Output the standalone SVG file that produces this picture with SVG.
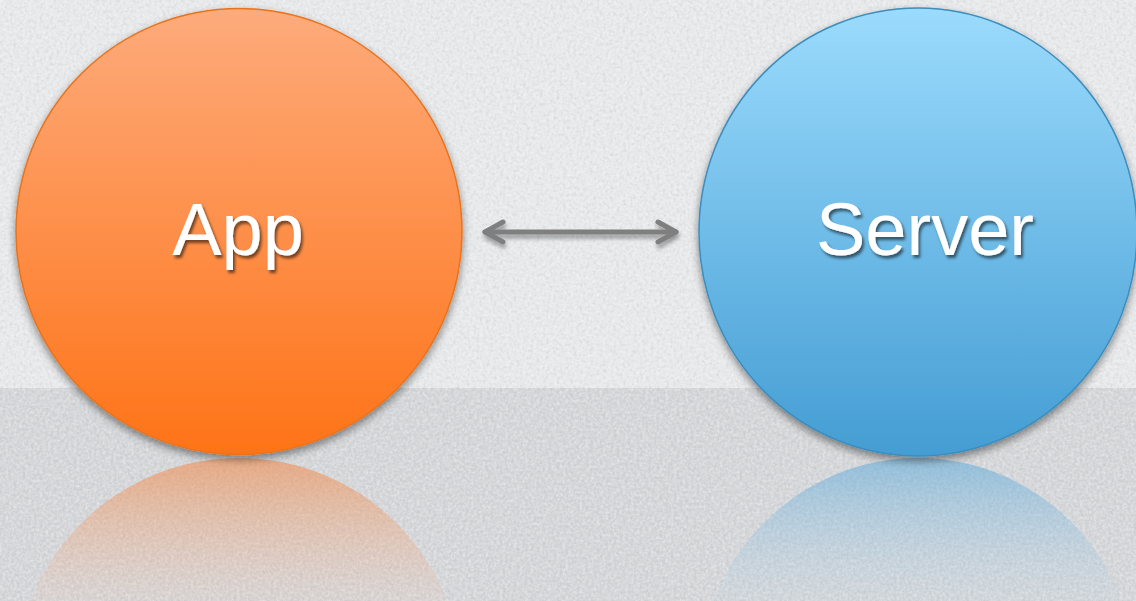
<svg xmlns="http://www.w3.org/2000/svg" width="1136" height="601" viewBox="0 0 1136 601">
  <defs>
    <filter id="noise" x="0" y="0" width="100%" height="100%">
      <feTurbulence type="fractalNoise" baseFrequency="0.35" numOctaves="3" seed="4" result="n"/>
      <feColorMatrix in="n" type="matrix" values="0 0 0 0 1  0 0 0 0 1  0 0 0 0 1  0 0 0 -1.6 1.1" result="w"/>
      <feComposite in="w" in2="SourceGraphic" operator="in"/>
    </filter>
    <filter id="noiseDark" x="0" y="0" width="100%" height="100%">
      <feTurbulence type="fractalNoise" baseFrequency="0.3" numOctaves="2" seed="9" result="n"/>
      <feColorMatrix in="n" type="matrix" values="0 0 0 0 0.45  0 0 0 0 0.46  0 0 0 0 0.48  0 0 0 1.6 -0.75" result="d"/>
      <feComposite in="d" in2="SourceGraphic" operator="in"/>
    </filter>
    <filter id="shadow" x="-20%" y="-20%" width="140%" height="140%">
      <feGaussianBlur in="SourceAlpha" stdDeviation="4"/>
      <feOffset dx="0" dy="4" result="b"/>
      <feComponentTransfer><feFuncA type="linear" slope="0.45"/></feComponentTransfer>
      <feMerge><feMergeNode/><feMergeNode in="SourceGraphic"/></feMerge>
    </filter>
    <filter id="tshadow" x="-20%" y="-30%" width="140%" height="160%">
      <feGaussianBlur in="SourceAlpha" stdDeviation="1.6"/>
      <feOffset dx="2" dy="3" result="b"/>
      <feComponentTransfer><feFuncA type="linear" slope="0.55"/></feComponentTransfer>
      <feMerge><feMergeNode/><feMergeNode in="SourceGraphic"/></feMerge>
    </filter>
    <filter id="ashadow" x="-10%" y="-100%" width="120%" height="300%">
      <feGaussianBlur in="SourceAlpha" stdDeviation="2"/>
      <feOffset dx="1" dy="4" result="b"/>
      <feComponentTransfer><feFuncA type="linear" slope="0.35"/></feComponentTransfer>
      <feMerge><feMergeNode/><feMergeNode in="SourceGraphic"/></feMerge>
    </filter>
    <linearGradient id="gOrange" x1="0" y1="0" x2="0" y2="1">
      <stop offset="0" stop-color="#fdab7c"/>
      <stop offset="1" stop-color="#fe7317"/>
    </linearGradient>
    <linearGradient id="gBlue" x1="0" y1="0" x2="0" y2="1">
      <stop offset="0" stop-color="#9bdbfd"/>
      <stop offset="1" stop-color="#449dd3"/>
    </linearGradient>
    <linearGradient id="rOrange" gradientUnits="userSpaceOnUse" x1="0" y1="458" x2="0" y2="601">
      <stop offset="0" stop-color="#f08a4a" stop-opacity="0.6"/>
      <stop offset="1" stop-color="#f5b08a" stop-opacity="0.08"/>
    </linearGradient>
    <linearGradient id="rBlue" gradientUnits="userSpaceOnUse" x1="0" y1="458" x2="0" y2="601">
      <stop offset="0" stop-color="#5aa8da" stop-opacity="0.55"/>
      <stop offset="1" stop-color="#a8cfe8" stop-opacity="0.08"/>
    </linearGradient>
    <style>
      .label { font-family: "Liberation Sans", Arial, sans-serif; font-size: 74px; fill: #ffffff; text-anchor: middle; }
      .conn { stroke: #7f7f7f; stroke-width: 5; fill: none; stroke-linecap: round; stroke-linejoin: round; }
    </style>
  </defs>

  <!-- background -->
  <rect x="0" y="0" width="1136" height="388" fill="#e6e7e9"/>
  <rect x="0" y="388" width="1136" height="213" fill="#d0d2d5"/>
  <rect x="0" y="0" width="1136" height="601" fill="#000" filter="url(#noise)" opacity="0.5"/>
  <rect x="0" y="0" width="1136" height="601" fill="#000" filter="url(#noiseDark)" opacity="0.4"/>

  <!-- reflections -->
  <g id="reflections">
    <circle cx="239" cy="681" r="223" fill="url(#rOrange)"/>
    <ellipse cx="918" cy="682" rx="219" ry="224" fill="url(#rBlue)"/>
  </g>

  <g id="app" filter="url(#shadow)">
    <circle cx="239" cy="231.5" r="223" fill="url(#gOrange)" stroke="#e8731c" stroke-width="1.5"/>
    <text class="label" x="238" y="255" filter="url(#tshadow)">App</text>
  </g>

  <g id="server" filter="url(#shadow)">
    <ellipse cx="918" cy="232" rx="219" ry="224" fill="url(#gBlue)" stroke="#3d8dbd" stroke-width="1.5"/>
    <text class="label" x="925" y="255" filter="url(#tshadow)">Server</text>
  </g>

  <g id="connectors" filter="url(#ashadow)">
    <line class="conn" x1="485" y1="232" x2="676" y2="232"/>
    <polyline class="conn" points="503,222 485,232 503,242"/>
    <polyline class="conn" points="658,222 676,232 658,242"/>
  </g>
</svg>
